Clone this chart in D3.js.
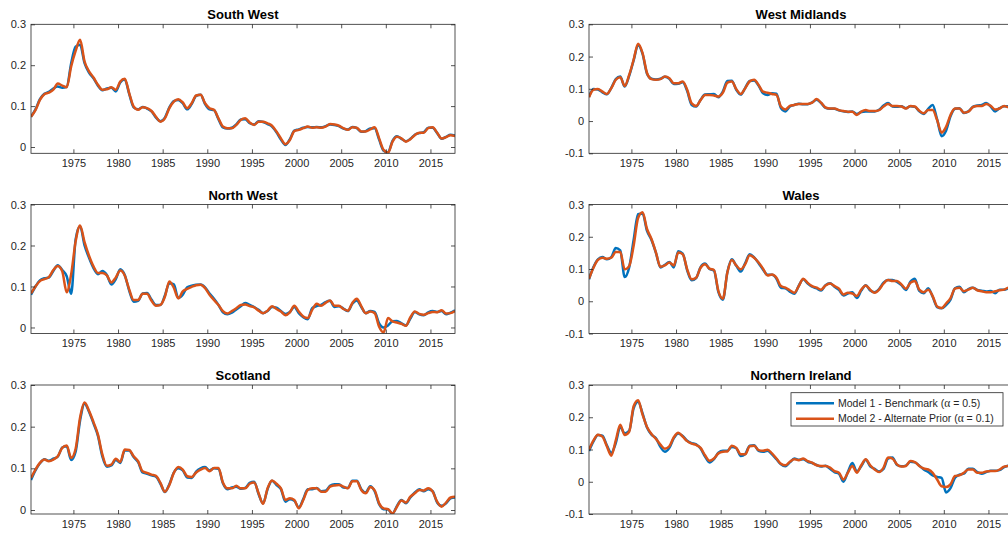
<!DOCTYPE html>
<html>
<head>
<meta charset="utf-8">
<script src="https://cdn.jsdelivr.net/npm/d3@7"></script>
<style>
  body { margin: 0; background: #fff; }
  svg { display: block; font-family: "Liberation Sans", Arial, Helvetica, sans-serif; }
</style>
</head>
<body>
<svg id="chart" width="1008" height="537"></svg>
<script>
// Half-yearly sample dates, 1970.25 .. 2017.75 (96 points)
const dates = d3.range(96).map(k => 1970.25 + k / 2);
const yearTicks = [1975, 1980, 1985, 1990, 1995, 2000, 2005, 2010, 2015];

// --- South West ---
const southWestM1 = [
  .074,.092,.117,.130,.135,.143,.148,.145,.147,.205,
  .245,.250,.205,.182,.168,.150,.139,.143,.145,.136,
  .158,.165,.130,.097,.092,.098,.094,.087,.072,.063,
  .072,.097,.112,.115,.107,.092,.105,.125,.128,.105,
  .092,.090,.068,.048,.045,.047,.055,.067,.068,.058,
  .055,.063,.061,.056,.050,.036,.018,.005,.019,.040,
  .043,.047,.049,.048,.049,.048,.051,.055,.054,.051,
  .045,.043,.049,.046,.037,.039,.045,.046,.018,-.009,
  -.013,.015,.026,.020,.014,.020,.030,.034,.036,.047,
  .047,.034,.020,.025,.030,.028];
const southWestM2 = [
  .074,.090,.115,.129,.133,.140,.155,.150,.146,.197,
  .235,.262,.209,.185,.170,.152,.140,.141,.146,.140,
  .160,.167,.132,.099,.091,.097,.095,.088,.074,.062,
  .070,.095,.111,.117,.109,.095,.107,.126,.128,.107,
  .095,.091,.070,.050,.046,.046,.054,.066,.070,.060,
  .054,.062,.062,.058,.052,.038,.021,.007,.017,.039,
  .042,.046,.050,.047,.048,.047,.050,.056,.055,.052,
  .046,.042,.048,.047,.038,.038,.043,.048,.021,-.007,
  -.014,.013,.025,.021,.013,.019,.029,.035,.035,.046,
  .048,.035,.021,.024,.029,.027];

// --- North West ---
const northWestM1 = [
  .080,.100,.115,.120,.122,.138,.152,.140,.125,.082,
  .215,.247,.200,.170,.145,.130,.138,.128,.105,.118,
  .142,.128,.090,.063,.065,.083,.084,.068,.055,.055,
  .078,.108,.105,.072,.080,.098,.102,.104,.105,.098,
  .083,.070,.055,.037,.032,.036,.044,.052,
  .060,.055,.050,.043,.035,.040,.050,.048,.040,.033,
  .038,.050,.035,.025,.020,.047,.052,.055,.062,.065,
  .050,.052,.046,.040,.058,.066,.050,.035,.040,.038,
  .010,.000,.005,.015,.016,.010,.005,.022,.038,.032,
  .030,.037,.040,.038,.040,.032,.036,.042];
const northWestM2 = [
  .083,.100,.113,.118,.123,.140,.150,.137,.086,.130,
  .210,.249,.208,.175,.149,.133,.133,.127,.110,.122,
  .139,.127,.093,.067,.067,.082,.082,.065,.053,.055,
  .075,.112,.097,.071,.088,.094,.099,.103,.104,.096,
  .080,.067,.055,.040,.034,.040,.047,.055,
  .056,.052,.049,.041,.035,.041,.052,.045,.039,.030,
  .037,.053,.039,.027,.023,.043,.058,.053,.060,.066,
  .053,.053,.045,.041,.060,.070,.052,.035,.039,.035,
  .002,-.012,.023,.015,.012,.009,.004,.025,.039,.033,
  .031,.035,.038,.037,.042,.034,.035,.040];

// --- Scotland ---
const scotlandM1 = [
  .072,.095,.112,.122,.118,.123,.128,.150,.153,.120,
  .140,.215,.255,.236,.208,.178,.128,.104,.107,.120,
  .113,.143,.143,.127,.115,.090,.087,.083,.080,.063,
  .043,.062,.090,.100,.095,.078,.077,.092,.100,.103,
  .095,.100,.099,.064,.050,.054,.056,.051,.053,.065,
  .068,.038,.016,.050,.070,.060,.050,.020,.026,.022,
  .006,.026,.050,.050,.053,.045,.046,.058,.062,.062,
  .054,.053,.070,.070,.050,.042,.057,.045,.014,.002,
  .001,-.009,.010,.024,.016,.030,.042,.050,.045,.050,
  .045,.018,.010,.016,.028,.030];
const scotlandM2 = [
  .077,.097,.113,.121,.117,.121,.129,.149,.155,.125,
  .147,.222,.258,.238,.211,.181,.133,.106,.109,.123,
  .115,.145,.144,.129,.117,.093,.089,.085,.082,.065,
  .044,.060,.089,.103,.097,.081,.079,.090,.097,.101,
  .093,.101,.101,.066,.052,.052,.058,.052,.052,.063,
  .066,.040,.015,.052,.071,.063,.052,.024,.028,.024,
  .004,.024,.048,.052,.052,.044,.044,.056,.059,.060,
  .056,.052,.069,.069,.048,.040,.055,.047,.016,.004,
  .002,-.008,.008,.023,.018,.032,.040,.048,.047,.052,
  .044,.020,.008,.018,.030,.032];

// --- West Midlands ---
const westMidlandsM1 = [
  .075,.099,.098,.089,.083,.103,.130,.138,.107,.140,
  .188,.236,.208,.147,.131,.129,.131,.137,.131,.115,
  .116,.120,.093,.050,.045,.066,.082,.083,.084,.074,
  .092,.124,.125,.097,.082,.103,.124,.126,.110,.086,
  .081,.086,.085,.040,.030,.045,.050,.054,.052,.052,
  .058,.066,.056,.041,.038,.038,.033,.030,.028,.030,
  .022,.028,.030,.030,.030,.035,.048,.056,.045,.044,
  .046,.040,.046,.044,.030,.022,.038,.050,.005,-.047,
  -.030,.015,.038,.040,.025,.030,.044,.048,.050,.056,
  .045,.030,.040,.046,.046,.043];
const westMidlandsM2 = [
  .074,.097,.099,.091,.084,.102,.128,.136,.109,.143,
  .190,.240,.211,.149,.130,.128,.130,.138,.133,.117,
  .117,.123,.097,.055,.047,.065,.081,.081,.079,.076,
  .088,.119,.123,.099,.084,.102,.123,.128,.112,.091,
  .088,.084,.081,.045,.036,.047,.050,.053,.053,.053,
  .057,.068,.057,.042,.039,.039,.034,.031,.029,.029,
  .019,.029,.034,.031,.031,.034,.045,.053,.047,.047,
  .045,.039,.047,.045,.032,.024,.034,.034,.003,-.036,
  -.018,.019,.039,.039,.026,.029,.043,.047,.047,.053,
  .047,.036,.039,.047,.043,.042];

// --- Wales ---
const walesM1 = [
  .068,.106,.130,.137,.130,.137,.165,.158,.075,.105,
  .190,.270,.272,.218,.190,.150,.105,.113,.122,.105,
  .155,.148,.096,.065,.072,.106,.117,.100,.095,.028,
  .005,.090,.130,.110,.092,.118,.146,.136,.118,.098,
  .082,.082,.070,.042,.040,.030,.023,.048,.068,.055,
  .045,.040,.033,.050,.056,.045,.035,.018,.024,.028,
  .010,.033,.050,.033,.028,.038,.058,.066,.066,.060,
  .050,.035,.060,.070,.032,.025,.040,.014,-.018,-.022,
  -.012,.005,.040,.045,.028,.038,.042,.035,.033,.030,
  .032,.025,.036,.036,.040,.045];
const walesM2 = [
  .070,.104,.128,.135,.132,.135,.153,.153,.099,.109,
  .172,.258,.276,.224,.193,.151,.107,.111,.120,.111,
  .151,.146,.099,.068,.073,.104,.115,.101,.097,.031,
  .008,.089,.128,.111,.099,.115,.143,.135,.120,.101,
  .080,.083,.073,.047,.042,.034,.026,.047,.070,.057,
  .047,.042,.036,.049,.055,.047,.039,.021,.026,.024,
  .016,.036,.049,.036,.026,.036,.055,.066,.063,.063,
  .052,.039,.057,.063,.036,.028,.036,.016,-.016,-.021,
  -.007,.010,.039,.042,.031,.036,.042,.034,.031,.028,
  .028,.031,.034,.036,.042,.039];

// --- Northern Ireland ---
const northernIrelandM1 = [
  .095,.125,.145,.143,.113,.090,.120,.170,.150,.158,
  .228,.248,.212,.168,.146,.135,.108,.093,.105,.135,
  .150,.142,.127,.120,.116,.103,.078,.060,.070,.090,
  .096,.096,.108,.104,.080,.086,.112,.113,.096,.093,
  .096,.085,.070,.054,.048,.060,.072,.068,
  .070,.062,.058,.052,.047,.050,.040,.030,.025,.000,
  .030,.058,.032,.048,.068,.048,.040,.032,.040,.072,
  .075,.052,.048,.050,.062,.060,.050,.038,.030,.020,
  .015,.012,-.033,-.020,.012,.022,.025,.040,.040,.030,
  .025,.030,.034,.034,.036,.045,.050,.040];
const northernIrelandM2 = [
  .100,.128,.146,.140,.110,.081,.128,.177,.145,.155,
  .234,.253,.208,.170,.148,.133,.115,.102,.110,.138,
  .152,.140,.126,.118,.114,.105,.082,.065,.072,.088,
  .093,.094,.112,.105,.085,.085,.110,.112,.098,.096,
  .099,.088,.072,.056,.051,.062,.070,.067,
  .072,.064,.059,.051,.049,.049,.044,.033,.028,.007,
  .028,.049,.028,.051,.070,.051,.038,.030,.044,.075,
  .072,.054,.047,.049,.064,.061,.049,.041,.038,.028,
  .007,-.014,-.016,-.008,.018,.020,.028,.038,.038,.028,
  .028,.032,.033,.033,.038,.047,.049,.045];

const seriesNames = ["Model 1 - Benchmark", "Model 2 - Alternate Prior"];
const seriesAlpha = ["0.5", "0.1"];
const colors = ["#0072BD", "#D95319"];

const panels = [
  {title: "South West",       col: 0, row: 0, yMin: -0.0154, yTicks: [0, 0.1, 0.2, 0.3], m1: southWestM1, m2: southWestM2},
  {title: "North West",       col: 0, row: 1, yMin: -0.0147, yTicks: [0, 0.1, 0.2, 0.3], m1: northWestM1, m2: northWestM2},
  {title: "Scotland",         col: 0, row: 2, yMin: -0.0096, yTicks: [0, 0.1, 0.2, 0.3], m1: scotlandM1, m2: scotlandM2},
  {title: "West Midlands",    col: 1, row: 0, yMin: -0.1, yTicks: [-0.1, 0, 0.1, 0.2, 0.3], m1: westMidlandsM1, m2: westMidlandsM2},
  {title: "Wales",            col: 1, row: 1, yMin: -0.1, yTicks: [-0.1, 0, 0.1, 0.2, 0.3], m1: walesM1, m2: walesM2},
  {title: "Northern Ireland", col: 1, row: 2, yMin: -0.1, yTicks: [-0.1, 0, 0.1, 0.2, 0.3], m1: northernIrelandM1, m2: northernIrelandM2, legend: true}
];

// Layout (pixels)
const W = 424, H = 129;
const colX = [31, 589];
const rowY = [24.3, 204.5, 385];
const axisColor = "#262626";
const lineWidth = 2.5;

const svg = d3.select("#chart");

panels.forEach((p, i) => {
  const g = svg.append("g")
    .attr("transform", `translate(${colX[p.col]},${rowY[p.row]})`);

  const x = d3.scaleLinear().domain([1970.25, 2017.75]).range([0, W]);
  const y = d3.scaleLinear().domain([p.yMin, 0.3]).range([H, 0]);

  // clip to axes box
  g.append("clipPath").attr("id", "clip" + i)
    .append("rect").attr("width", W).attr("height", H);

  const line = d3.line()
    .x((d, j) => x(dates[j]))
    .y(d => y(d))
    .curve(d3.curveMonotoneX);

  const lines = g.append("g").attr("clip-path", `url(#clip${i})`)
    .attr("fill", "none")
    .attr("stroke-width", lineWidth)
    .attr("stroke-linejoin", "round");
  [p.m1, p.m2].forEach((s, j) => {
    lines.append("path").attr("d", line(s)).attr("stroke", colors[j]);
  });

  // --- axes, MATLAB style: box with inward ticks ---
  const styleAxis = sel => {
    sel.select(".domain").remove();
    sel.selectAll("line").attr("stroke", axisColor).attr("stroke-width", 0.8);
    sel.selectAll("text").attr("fill", axisColor).attr("font-size", 11)
      .attr("font-family", "'Liberation Sans', Arial, sans-serif");
  };

  g.append("g").attr("transform", `translate(0,${H})`)
    .call(d3.axisBottom(x).tickValues(yearTicks).tickSize(-4).tickPadding(6).tickFormat(d3.format("d")))
    .call(styleAxis);
  g.append("g")
    .call(d3.axisTop(x).tickValues(yearTicks).tickSize(-4).tickFormat(""))
    .call(styleAxis);
  g.append("g")
    .call(d3.axisLeft(y).tickValues(p.yTicks).tickSize(-4).tickPadding(5).tickFormat(d => String(d)))
    .call(styleAxis);
  g.append("g").attr("transform", `translate(${W},0)`)
    .call(d3.axisRight(y).tickValues(p.yTicks).tickSize(-4).tickFormat(""))
    .call(styleAxis);

  g.append("rect")
    .attr("width", W).attr("height", H)
    .attr("fill", "none")
    .attr("stroke", axisColor)
    .attr("stroke-width", 0.8);

  // Title
  g.append("text")
    .attr("x", W / 2).attr("y", -5)
    .attr("text-anchor", "middle")
    .attr("font-size", 13)
    .attr("font-weight", "bold")
    .attr("fill", "#000")
    .text(p.title);

  // Legend
  if (p.legend) {
    const lg = g.append("g").attr("transform", "translate(202,7.7)");
    lg.append("rect")
      .attr("width", 212).attr("height", 33.3)
      .attr("fill", "#fff")
      .attr("stroke", axisColor)
      .attr("stroke-width", 0.8);
    seriesNames.forEach((name, j) => {
      const ly = 10.6 + j * 15.4;
      lg.append("line")
        .attr("x1", 5).attr("x2", 43)
        .attr("y1", ly).attr("y2", ly)
        .attr("stroke", colors[j])
        .attr("stroke-width", lineWidth);
      const t = lg.append("text")
        .attr("x", 47).attr("y", ly + 3.7)
        .attr("font-size", 10.5)
        .attr("fill", axisColor);
      t.append("tspan").text(name + " (");
      t.append("tspan").attr("font-family", "'Liberation Serif', 'Times New Roman', serif")
        .attr("font-size", 11.5).text("α");
      t.append("tspan").text(" = " + seriesAlpha[j] + ")");
    });
  }
});
</script>
</body>
</html>
